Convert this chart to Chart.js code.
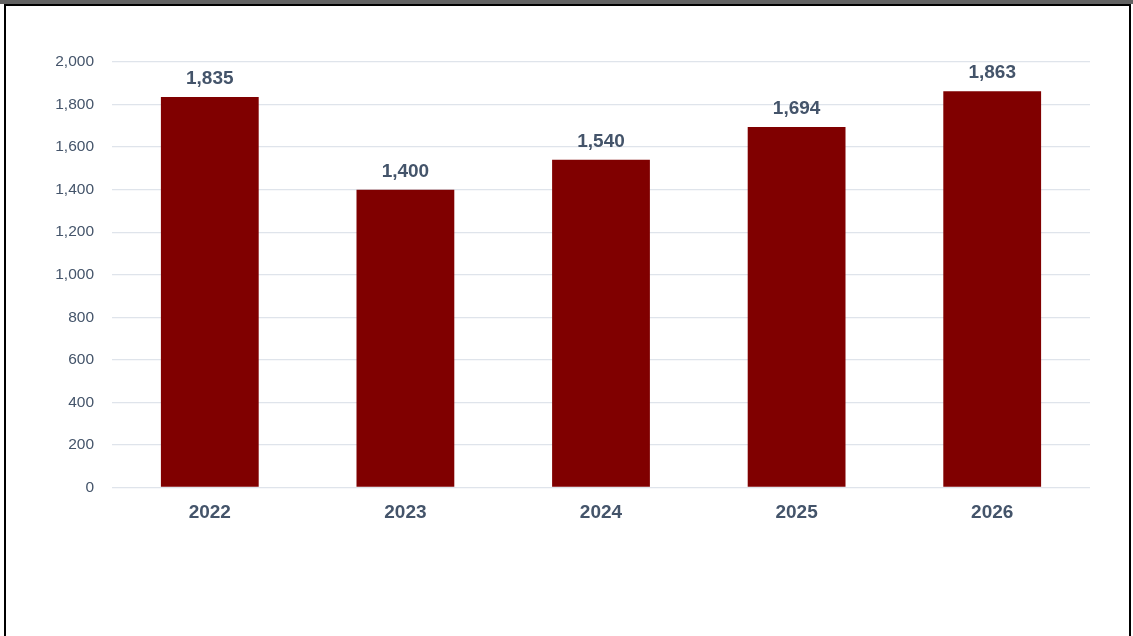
<!DOCTYPE html>
<html>
<head>
<meta charset="utf-8">
<script src="https://cdn.jsdelivr.net/npm/chart.js@4.4.1/dist/chart.umd.min.js"></script>
<style>
  html, body { margin: 0; padding: 0; background: #fff; }
  #band { position: absolute; left: 0; top: 0; width: 1133px; height: 4px; background: #626262; }
  #frame { position: absolute; left: 4px; top: 4px; width: 1123px; height: 700px;
           border: 2px solid #000; border-bottom: none; }
  #wrap { position: absolute; left: 0; top: 0; width: 1133px; height: 636px; }
</style>
</head>
<body>
<div id="band"></div>
<div id="frame"></div>
<div id="wrap"><canvas id="chart"></canvas></div>
<script>
// data
const years = ['2022', '2023', '2024', '2025', '2026'];
const values = [1835, 1400, 1540, 1694, 1863];
const yTicks = [0, 200, 400, 600, 800, 1000, 1200, 1400, 1600, 1800, 2000];

const textColor = '#44546A';
const fontName = '"Liberation Sans", Arial, sans-serif';

// 막대 위 값 표시
const valueLabels = {
  id: 'valueLabels',
  afterDatasetsDraw(chart) {
    const ctx = chart.ctx;
    const meta = chart.getDatasetMeta(0);
    ctx.save();
    ctx.font = 'bold 19px ' + fontName;
    ctx.fillStyle = textColor;
    ctx.textAlign = 'center';
    ctx.textBaseline = 'alphabetic';
    meta.data.forEach(function(bar, i) {
      ctx.fillText(values[i].toLocaleString('en-US'), bar.x, bar.y - 13);
    });
    ctx.restore();
  }
};

const ctx = document.getElementById('chart').getContext('2d');
const chart = new Chart(ctx, {
  type: 'bar',
  data: {
    labels: years,
    datasets: [{
      data: values,
      backgroundColor: '#800000',
      borderWidth: 0,
      barPercentage: 0.5,
      categoryPercentage: 1
    }]
  },
  options: {
    responsive: true,
    maintainAspectRatio: false,
    animation: { duration: 0 },
    layout: { padding: { left: 0, right: 43, top: 62, bottom: 98.5 } },
    plugins: {
      legend: { display: false },
      tooltip: { enabled: false }
    },
    scales: {
      x: {
        grid: { display: false },
        border: { display: false },
        ticks: {
          color: textColor,
          padding: 6,
          font: { family: fontName, size: 19, weight: 'bold' }
        },
        afterFit(scale) { scale.height = 50; }
      },
      y: {
        min: 0,
        max: 2000,
        afterBuildTicks(scale) {
          scale.ticks = yTicks.map(function(v) { return { value: v }; });
        },
        grid: { color: '#dfe4eb', lineWidth: 1.3, drawTicks: false },
        border: { display: false },
        ticks: {
          color: textColor,
          padding: 18,
          font: { family: fontName, size: 15.5 },
          callback: function(v) { return v.toLocaleString('en-US'); }
        },
        afterFit(scale) { scale.width = 112; }
      }
    }
  },
  plugins: [valueLabels]
});
</script>
</body>
</html>
